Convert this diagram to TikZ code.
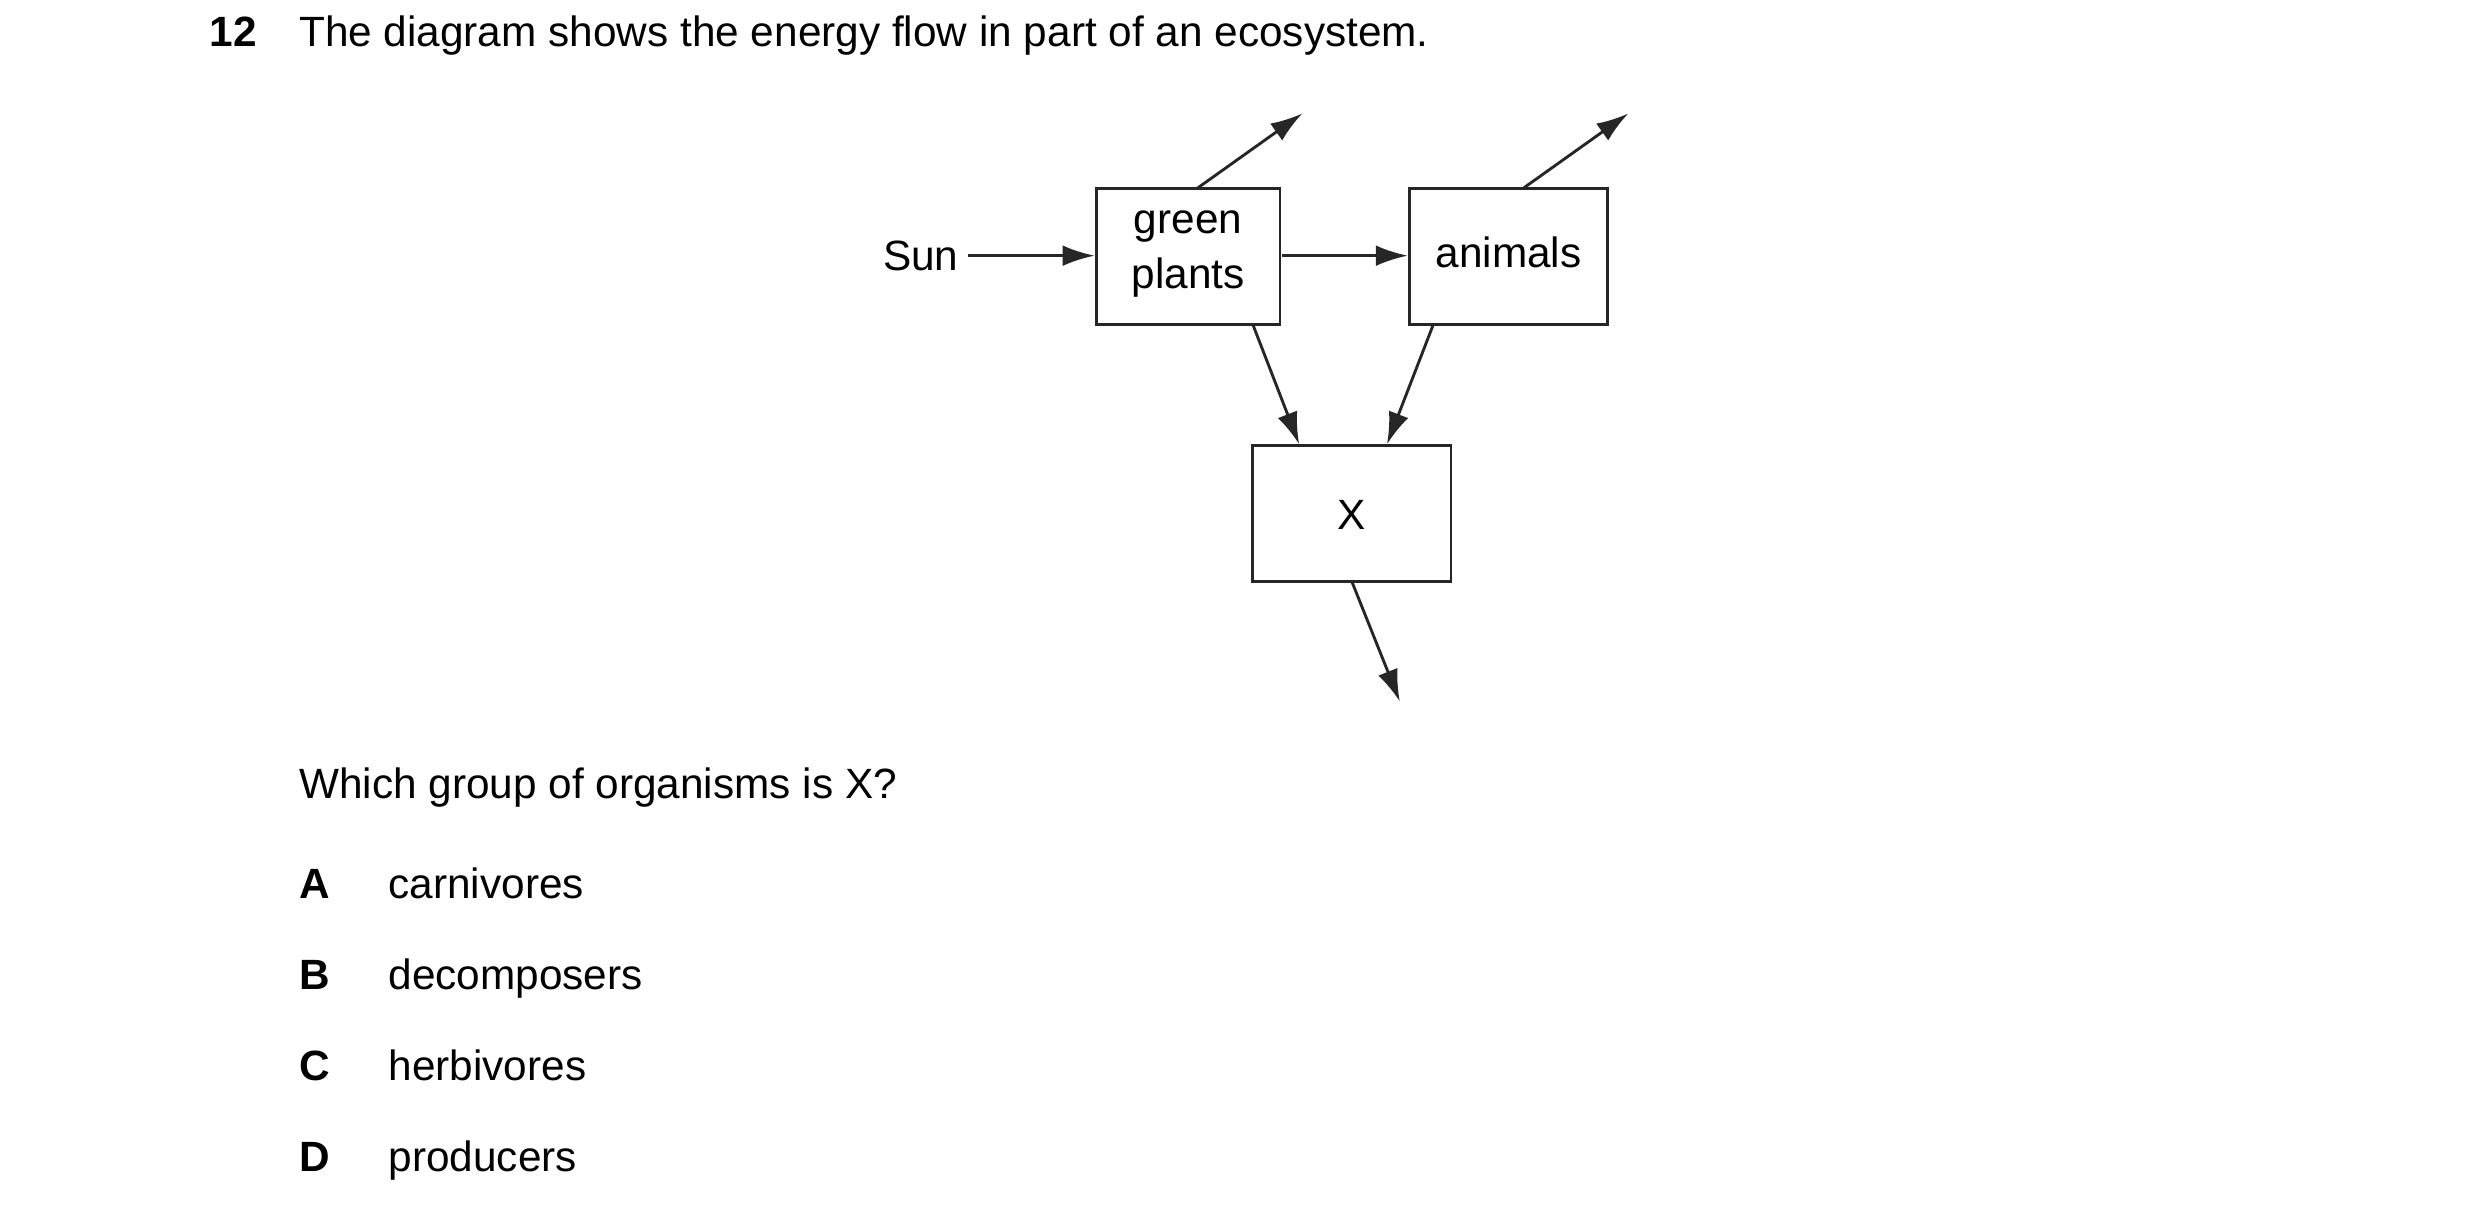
\documentclass[tikz,border=0pt]{standalone}
\usepackage{fontspec}
\setmainfont{Liberation Sans}
\usetikzlibrary{arrows.meta}
\begin{document}
\begin{tikzpicture}[x=1pt,y=-1pt,
  box/.style={draw=black!85,line width=1.8pt},
  arr/.style={draw=black!85,line width=1.8pt,-{Latex[length=20pt,width=13pt]}},
  txt/.style={inner sep=0pt,anchor=base west,font=\fontsize{26.5}{32}\selectfont},
  lab/.style={inner sep=0pt,font=\fontsize{26.5}{34}\selectfont,align=center}]
\useasboundingbox (0,0) rectangle (1552,757);
\node[txt,font=\fontsize{26.5}{32}\selectfont\bfseries] (q) at (131,29) {12};
\node[txt] (t) at (187,29) {The diagram shows the energy flow in part of an ecosystem.};
\draw[box] (686,118) rectangle (801,203);
\node[lab] (gp) at (743.5,159) {green\\plants};
\draw[box] (882,118) rectangle (1006,203);
\node[lab] (an) at (944,158) {animals};
\draw[box] (784,279) rectangle (908,364);
\node[lab] (x) at (846,322) {X};
\node[lab,anchor=east] (sun) at (600,160) {Sun};
\coordinate (u1) at (815,71);
\coordinate (u2) at (1019,71);
\coordinate (d1) at (876,439);
\draw[arr] (sun.east)++(6,0) -- (685,160);
\draw[arr] (802,160) -- (881,160);
\draw[arr] (749,118) -- (u1);
\draw[arr] (953,118) -- (u2);
\draw[arr] (784,203) -- (813,278);
\draw[arr] (897,203) -- (868,278);
\draw[arr] (846,364) -- (d1);
\node[txt] (w) at (187,500) {Which group of organisms is X?};
\foreach \l/\t/\y in {A/carnivores/562,B/decomposers/619,C/herbivores/676,D/producers/733}{
  \node[txt,font=\fontsize{26.5}{32}\selectfont\bfseries] (o\l) at (187,\y) {\l};
  \node[txt] (a\l) at (243,\y) {\t};
}
\end{tikzpicture}
\end{document}
